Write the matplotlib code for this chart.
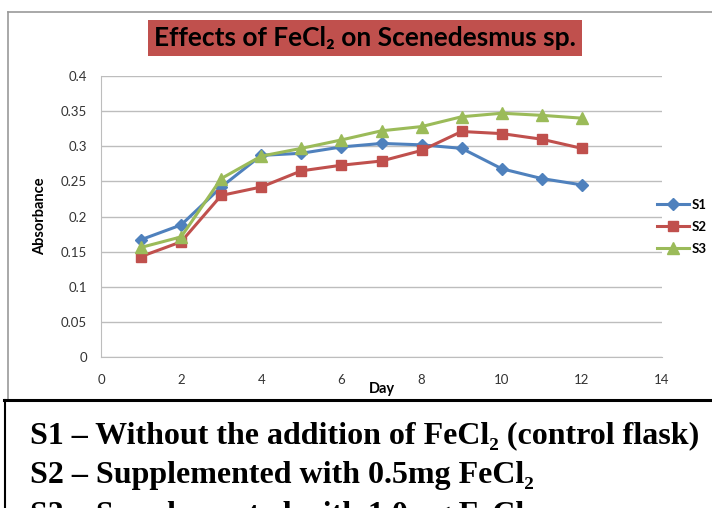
import matplotlib
matplotlib.use("Agg")
import matplotlib.pyplot as plt
from matplotlib.patches import Rectangle
from matplotlib.lines import Line2D

# absorbance readings per day
days = [1, 2, 3, 4, 5, 6, 7, 8, 9, 10, 11, 12]
s1 = [0.167, 0.188, 0.242, 0.287, 0.290, 0.299, 0.304, 0.302, 0.297, 0.268, 0.254, 0.245]
s2 = [0.143, 0.164, 0.230, 0.242, 0.265, 0.273, 0.279, 0.294, 0.321, 0.318, 0.310, 0.297]
s3 = [0.156, 0.171, 0.254, 0.286, 0.297, 0.309, 0.322, 0.328, 0.342, 0.347, 0.344, 0.340]
series_names = ["S1", "S2", "S3"]
y_ticks = [0, 0.05, 0.1, 0.15, 0.2, 0.25, 0.3, 0.35, 0.4]
y_labels = ["0", "0.05", "0.1", "0.15", "0.2", "0.25", "0.3", "0.35", "0.4"]
x_ticks = [0, 2, 4, 6, 8, 10, 12, 14]
notes = [
    "S1 \u2013 Without the addition of FeCl\u2082 (control flask)",
    "S2 \u2013 Supplemented with 0.5mg FeCl\u2082",
    "S3 \u2013 Supplemented with 1.0mg FeCl\u2082",
]

SANS = ["Lato", "DejaVu Sans"]
SERIF = ["Liberation Serif", "DejaVu Serif"]
W, H = 712, 508

fig = plt.figure(figsize=(W / 100, H / 100), dpi=100)
fig.patch.set_facecolor("white")

def fx(px):
    return px / W

def fy(py):
    return 1 - py / H

ax = fig.add_axes([fx(101), fy(357), fx(662) - fx(101), fy(76) - fy(357)])

colors = ["#4F81BD", "#C0504D", "#9BBB59"]
markers = ["D", "s", "^"]
msizes = [6.5, 7.5, 8.5]
handles = []
for vals, name, c, m, ms in zip([s1, s2, s3], series_names, colors, markers, msizes):
    h, = ax.plot(days, vals, color=c, marker=m, markersize=ms, linewidth=2.2,
                 markeredgecolor=c, label=name)
    handles.append(h)

ax.set_xlim(0, 14)
ax.set_ylim(0, 0.4)
ax.set_xticks(x_ticks)
ax.set_yticks(y_ticks)
ax.set_yticklabels(y_labels)
ax.grid(axis="y", color="#bdbdbd", linewidth=1)
ax.set_axisbelow(True)
for s in ["top", "right"]:
    ax.spines[s].set_visible(False)
for s in ["left", "bottom"]:
    ax.spines[s].set_color("#bdbdbd")
ax.tick_params(length=0, labelsize=9.5, colors="#333333")
ax.tick_params(axis="y", pad=10)
ax.tick_params(axis="x", pad=12)
for lab in ax.get_xticklabels() + ax.get_yticklabels():
    lab.set_family(SANS)
ax.set_xlabel("Day", family=SANS, fontweight="bold", fontsize=10.5, labelpad=-3)
ax.set_ylabel("Absorbance", family=SANS, fontweight="bold", fontsize=10.5, labelpad=10)

leg = fig.legend(handles=handles, loc="center left", bbox_to_anchor=(fx(645), fy(227)),
                 frameon=False, prop={"family": SANS, "weight": "bold", "size": 9.5},
                 handlelength=2.4, handletextpad=0.2, labelspacing=0.75)

# title box
fig.patches.append(Rectangle((fx(148), fy(56)), fx(582) - fx(148), fy(20) - fy(56),
                             transform=fig.transFigure, facecolor="#C0504D",
                             edgecolor="none", zorder=0))
fig.text(fx(365), fy(38), "Effects of FeCl\u2082 on Scenedesmus sp.", family=SANS,
         fontweight="bold", fontsize=19, ha="center", va="center")

# chart frame lines
fig.lines.append(Line2D([fx(8), 1], [fy(12), fy(12)], transform=fig.transFigure,
                        color="#999999", linewidth=1.2))
fig.lines.append(Line2D([fx(8), fx(8)], [fy(12), fy(400)], transform=fig.transFigure,
                        color="#999999", linewidth=1.2))
# note box
fig.lines.append(Line2D([fx(4), 1], [fy(400), fy(400)], transform=fig.transFigure,
                        color="black", linewidth=2.2))
fig.lines.append(Line2D([fx(5), fx(5)], [fy(400), 0], transform=fig.transFigure,
                        color="black", linewidth=1.5))

# last note line is cut by the bottom edge, as in the source image
for i, txt in enumerate(notes):
    fig.text(fx(30), fy(443 + 40 * i), txt, family=SERIF, fontweight="bold",
             fontsize=23, ha="left", va="baseline")

fig.savefig("out.png", dpi=100)
